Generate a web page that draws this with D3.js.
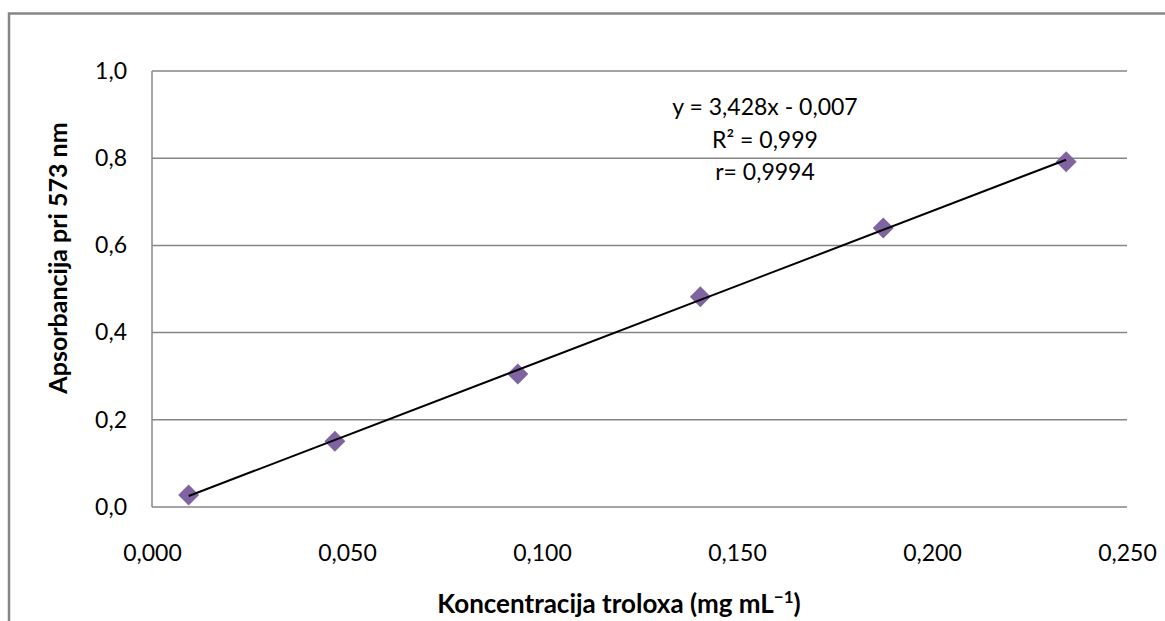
<!DOCTYPE html>
<html>
<head>
<meta charset="utf-8">
<script src="https://cdn.jsdelivr.net/npm/d3@7"></script>
<style>
  html, body { margin: 0; padding: 0; background: #fff; }
  svg { display: block; font-family: Lato, "Noto Sans", sans-serif; }
</style>
</head>
<body>
<svg id="chart" width="1165" height="621"></svg>
<script>
// Trolox calibration data
const concentrations = [0.0094, 0.0469, 0.0938, 0.1406, 0.1875, 0.2344];
const absorbances = [0.0275, 0.151, 0.305, 0.482, 0.640, 0.792];
const xTicks = [0, 0.05, 0.10, 0.15, 0.20, 0.25];
const yTicks = [0, 0.2, 0.4, 0.6, 0.8, 1.0];
const trendSlope = 3.428;
const trendIntercept = -0.007;
const equationLines = ["y = 3,428x - 0,007", "R² = 0,999", "r= 0,9994"];

const width = 1165;
const height = 621;
const margin = { top: 71, right: 38, bottom: 114, left: 152 };
const gridColor = "#868686";
const markerColor = "#8064A2";

const svg = d3.select("#chart");

// Outer chart frame (runs off the right and bottom edges)
svg.append("rect")
  .attr("x", 9).attr("y", 13.5)
  .attr("width", width + 20).attr("height", height + 20)
  .attr("fill", "none")
  .attr("stroke", gridColor)
  .attr("stroke-width", 2.5);

const xScale = d3.scaleLinear().domain([0, 0.25]).range([margin.left, width - margin.right]);
const yScale = d3.scaleLinear().domain([0, 1]).range([height - margin.bottom, margin.top]);

const commaFormat = (digits) => (value) => d3.format(`.${digits}f`)(value).replace(".", ",");

// Horizontal gridlines
svg.append("g")
  .selectAll("line")
  .data(yTicks.filter((tick) => tick > 0))
  .join("line")
  .attr("x1", xScale(0)).attr("x2", xScale(0.25))
  .attr("y1", (tick) => yScale(tick)).attr("y2", (tick) => yScale(tick))
  .attr("stroke", gridColor)
  .attr("stroke-width", 1.5);

// Axes
const xAxis = svg.append("g")
  .attr("transform", `translate(0,${yScale(0)})`)
  .call(d3.axisBottom(xScale).tickValues(xTicks).tickFormat(commaFormat(3)).tickSize(0).tickPadding(38));

const yAxis = svg.append("g")
  .attr("transform", `translate(${xScale(0)},0)`)
  .call(d3.axisLeft(yScale).tickValues(yTicks).tickFormat(commaFormat(1)).tickSize(0).tickPadding(25));

[xAxis, yAxis].forEach((axis) => {
  axis.select(".domain").attr("stroke", gridColor).attr("stroke-width", 1.5);
  axis.selectAll("text")
    .attr("font-family", "Lato, 'Noto Sans', sans-serif")
    .attr("font-size", 23)
    .attr("fill", "#000");
});
// x axis domain only spans the bottom edge
xAxis.select(".domain").attr("d", `M${xScale(0)},0H${xScale(0.25)}`);
yAxis.select(".domain").attr("d", `M0,${yScale(0)}V${yScale(1)}`);

// Data markers (diamonds)
const diamond = d3.symbol().type(d3.symbolDiamond2).size(280);
svg.append("g")
  .selectAll("path")
  .data(concentrations.map((conc, index) => ({ conc, abs: absorbances[index] })))
  .join("path")
  .attr("transform", (point) => `translate(${xScale(point.conc)},${yScale(point.abs)})`)
  .attr("d", diamond)
  .attr("fill", markerColor);

// Linear trendline across the data range
const trendEnds = [d3.min(concentrations), d3.max(concentrations)];
svg.append("line")
  .attr("x1", xScale(trendEnds[0]))
  .attr("y1", yScale(trendSlope * trendEnds[0] + trendIntercept))
  .attr("x2", xScale(trendEnds[1]))
  .attr("y2", yScale(trendSlope * trendEnds[1] + trendIntercept))
  .attr("stroke", "#000")
  .attr("stroke-width", 2);

// Equation label
svg.append("g")
  .selectAll("text")
  .data(equationLines)
  .join("text")
  .attr("x", 765)
  .attr("y", (line, index) => 115 + index * 32.5)
  .attr("text-anchor", "middle")
  .attr("font-size", 23)
  .text((line) => line);

// Axis titles
svg.append("text")
  .attr("transform", "translate(67,258) rotate(-90)")
  .attr("text-anchor", "middle")
  .attr("font-size", 25)
  .attr("font-weight", "bold")
  .text("Apsorbancija pri 573 nm");

const xTitle = svg.append("text")
  .attr("x", 619).attr("y", 613)
  .attr("text-anchor", "middle")
  .attr("font-size", 26)
  .attr("font-weight", "bold");
xTitle.append("tspan").text("Koncentracija troloxa (mg mL");
xTitle.append("tspan").attr("baseline-shift", "super").attr("font-size", 17).text("−1");
xTitle.append("tspan").text(")");
</script>
</body>
</html>
